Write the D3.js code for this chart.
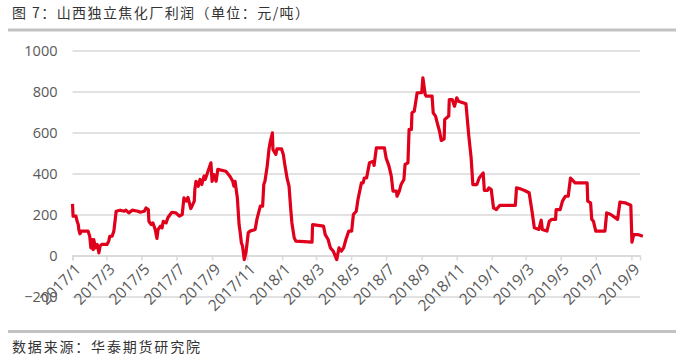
<!DOCTYPE html>
<html>
<head>
<meta charset="utf-8">
<script src="https://cdn.jsdelivr.net/npm/d3@7"></script>
<style>
  html, body { margin: 0; padding: 0; background: #fff; }
  svg { display: block; }
</style>
</head>
<body>
<svg id="chart" width="681" height="357"></svg>
<script>
const titleText = "图 7：山西独立焦化厂利润（单位：元/吨）";
const sourceText = "数据来源：华泰期货研究院";
const yTicks = [-200, 0, 200, 400, 600, 800, 1000];
const xStart = "2017-01-01";
const xEnd = "2019-09-16";
const dates = [
"2017-01-01","2017-01-02","2017-01-07","2017-01-09","2017-01-11","2017-01-12","2017-01-14","2017-01-16","2017-01-28","2017-01-31",
"2017-02-02","2017-02-04","2017-02-06","2017-02-07","2017-02-10","2017-02-13","2017-02-16","2017-02-18","2017-02-21","2017-03-02",
"2017-03-05","2017-03-07","2017-03-11","2017-03-14","2017-03-18","2017-03-25","2017-04-01","2017-04-04","2017-04-09","2017-04-15",
"2017-04-25","2017-04-29","2017-05-06","2017-05-09","2017-05-13","2017-05-14","2017-05-18","2017-05-21","2017-05-25","2017-05-28",
"2017-05-30","2017-06-03","2017-06-06","2017-06-08","2017-06-13","2017-06-16","2017-06-20","2017-06-23","2017-06-30","2017-07-06",
"2017-07-11","2017-07-14","2017-07-18","2017-07-21","2017-07-26","2017-08-01","2017-08-02","2017-08-04","2017-08-08","2017-08-11",
"2017-08-14","2017-08-18","2017-08-20","2017-08-23","2017-08-30","2017-09-01","2017-09-04","2017-09-08","2017-09-11","2017-09-25",
"2017-10-02","2017-10-07","2017-10-09","2017-10-11","2017-10-15","2017-10-18","2017-10-20","2017-10-22","2017-10-24","2017-10-27",
"2017-10-30","2017-11-01","2017-11-03","2017-11-06","2017-11-15","2017-11-18","2017-11-24","2017-11-28","2017-11-30","2017-12-02",
"2017-12-06","2017-12-09","2017-12-11","2017-12-15","2017-12-16","2017-12-21","2017-12-23","2017-12-31","2018-01-03","2018-01-06",
"2018-01-10","2018-01-13","2018-01-16","2018-01-18","2018-01-22","2018-01-25","2018-02-22","2018-02-23","2018-03-14","2018-03-17",
"2018-03-22","2018-03-26","2018-03-31","2018-04-06","2018-04-10","2018-04-14","2018-04-18","2018-04-22","2018-04-27","2018-05-02",
"2018-05-05","2018-05-10","2018-05-13","2018-05-19","2018-05-22","2018-05-24","2018-05-28","2018-06-02","2018-06-09","2018-06-10",
"2018-06-14","2018-06-28","2018-07-01","2018-07-06","2018-07-10","2018-07-13","2018-07-19","2018-07-20","2018-07-24","2018-07-27",
"2018-08-01","2018-08-03","2018-08-08","2018-08-10","2018-08-14","2018-08-15","2018-08-19","2018-08-24","2018-09-01","2018-09-03",
"2018-09-07","2018-09-09","2018-09-19","2018-09-21","2018-09-25","2018-09-28","2018-10-02","2018-10-05","2018-10-10","2018-10-11",
"2018-10-14","2018-10-18","2018-10-19","2018-10-24","2018-10-28","2018-11-01","2018-11-04","2018-11-09","2018-11-17","2018-11-22",
"2018-11-26","2018-11-29","2018-12-06","2018-12-10","2018-12-17","2018-12-19","2018-12-24","2018-12-27","2018-12-31","2019-01-04",
"2019-01-09","2019-01-15","2019-02-11","2019-02-13","2019-02-20","2019-02-27","2019-03-07","2019-03-12","2019-03-16","2019-03-24",
"2019-03-28","2019-03-30","2019-04-07","2019-04-11","2019-04-15","2019-04-22","2019-04-23","2019-04-30","2019-05-04","2019-05-09",
"2019-05-14","2019-05-18","2019-05-26","2019-06-16","2019-06-17","2019-06-22","2019-06-24","2019-06-27","2019-07-01","2019-07-17",
"2019-07-20","2019-07-27","2019-08-08","2019-08-12","2019-08-21","2019-08-31","2019-09-02","2019-09-05","2019-09-12","2019-09-21"
];
const profit = [
252,192,192,167,151,127,106,119,119,94,
37,78,29,78,37,54,13,46,54,54,
70,94,94,119,216,221,216,221,208,221,
216,211,216,232,224,167,151,159,127,83,
127,143,135,167,159,184,200,211,208,192,
200,281,265,283,229,265,322,362,338,371,
346,387,371,395,452,362,395,362,420,411,
387,362,338,362,281,151,111,62,46,-20,
13,62,111,119,127,176,241,241,346,362,
436,517,551,598,517,493,520,520,493,436,
371,338,224,159,86,70,65,151,143,102,
78,37,21,-20,37,21,37,78,119,119,
200,216,273,354,354,378,378,452,460,439,
525,525,476,436,387,314,314,289,314,346,
371,444,452,615,615,696,704,794,794,867,
785,777,777,696,680,647,606,561,569,663,
671,680,761,761,728,769,753,748,740,582,
476,346,346,378,403,317,317,330,322,232,
224,245,245,330,325,317,306,216,135,127,
172,127,119,167,176,176,224,224,265,289,
289,378,354,354,265,257,176,167,119,119,
208,200,176,260,257,245,65,102,102,94
];

const svg = d3.select("#chart");
const parse = d3.timeParse("%Y-%m-%d");
const data = dates.map((d, i) => ({ date: parse(d), value: profit[i] }));

const mLeft = 72.5, mRight = 640, mTop = 50.5, mBottom = 296.5;

const x = d3.scaleTime().domain([parse(xStart), parse(xEnd)]).range([mLeft, mRight]);
const y = d3.scaleLinear().domain([-200, 1000]).range([mBottom, mTop]);

// Title
svg.append("text")
  .attr("x", 12).attr("y", 18)
  .attr("font-family", "'Noto Sans CJK SC', sans-serif")
  .attr("font-size", 14)
  .attr("fill", "#333")
  .attr("textLength", 297)
  .attr("lengthAdjust", "spacing")
  .text(titleText);
svg.append("rect").attr("x", 8).attr("y", 28.5).attr("width", 668).attr("height", 3).attr("fill", "#c3c3c3");

// Y grid + labels
const yAxis = d3.axisLeft(y).tickValues(yTicks).tickSize(-(mRight - mLeft)).tickPadding(15).tickFormat(d3.format("d"));
const gy = svg.append("g").attr("transform", `translate(${mLeft},0)`).call(yAxis);
gy.select(".domain").remove();
gy.selectAll(".tick line").attr("stroke", "#d9d9d9").attr("stroke-width", 1.5);
gy.selectAll(".tick text")
  .attr("font-family", "'Open Sans', 'Noto Sans', sans-serif")
  .attr("font-size", 14.5)
  .attr("fill", "#595959");

// X axis at zero
const xAxis = d3.axisBottom(x).ticks(d3.timeMonth.every(2)).tickSize(5).tickFormat(d3.timeFormat("%Y/%-m"));
const gx = svg.append("g").attr("transform", `translate(0,${y(0)})`).call(xAxis);
gx.select(".domain").attr("stroke", "#d9d9d9").attr("stroke-width", 1.5);
gx.selectAll(".tick line").attr("stroke", "#d9d9d9").attr("stroke-width", 1.5);
gx.selectAll(".tick text")
  .attr("font-family", "'Open Sans', 'Noto Sans', sans-serif")
  .attr("font-size", 15.5)
  .attr("fill", "#595959")
  .attr("text-anchor", "end")
  .attr("y", 0).attr("dy", "0.35em")
  .attr("transform", "translate(5,11) rotate(-45)");

// Line
const line = d3.line().x(d => x(d.date)).y(d => y(d.value));
svg.append("path")
  .datum(data)
  .attr("d", line)
  .attr("fill", "none")
  .attr("stroke", "#e0001b")
  .attr("stroke-width", 3.2)
  .attr("stroke-linejoin", "round");

// Source
svg.append("rect").attr("x", 8).attr("y", 330).attr("width", 668).attr("height", 3).attr("fill", "#c3c3c3");
svg.append("text")
  .attr("x", 12).attr("y", 352)
  .attr("font-family", "'Noto Sans CJK SC', sans-serif")
  .attr("font-size", 14)
  .attr("fill", "#333")
  .attr("textLength", 188)
  .attr("lengthAdjust", "spacing")
  .text(sourceText);
</script>
</body>
</html>
